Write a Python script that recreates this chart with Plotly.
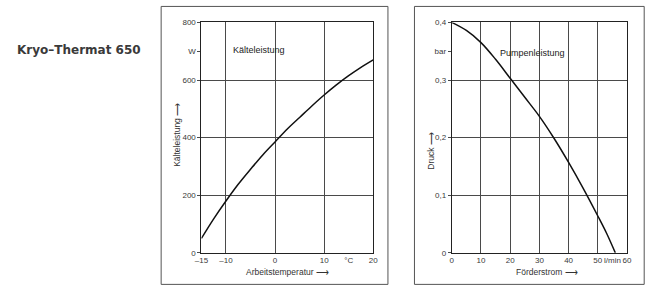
import plotly.graph_objects as go

# ---- data ----
temp_c = [-15, -12.5, -10, -7.5, -5, -2.5, 0, 2.5, 5, 7.5, 10, 12.5, 15, 17.5, 20]
cooling_w = [50, 118, 180, 238, 290, 340, 385, 430, 470, 510, 548, 583, 615, 644, 670]

flow_lpm = [0, 5, 10, 15, 20, 25, 30, 35, 40, 45, 50, 53, 56]
pressure_bar = [0.400, 0.386, 0.365, 0.336, 0.303, 0.270, 0.237, 0.199, 0.157, 0.112, 0.064, 0.034, 0.0]

left_xticks = [-15, -10, 0, 10, 15, 20]
left_xtext = ["–15", "–10", "0", "10", "°C", "20"]
left_xgrid = [-10, 0, 10]
left_yticks = [0, 200, 400, 600, 700, 800]
left_ytext = ["0", "200", "400", "600", "W", "800"]
left_ygrid = [200, 400, 600]

right_xticks = [0, 10, 20, 30, 40, 50, 55, 60]
right_xtext = ["0", "10", "20", "30", "40", "50", "l/min", "60"]
right_xgrid = [10, 20, 30, 40, 50]
right_yticks = [0, 0.1, 0.2, 0.3, 0.35, 0.4]
right_ytext = ["0", "0,1", "0,2", "0,3", "bar", "0,4"]
right_ygrid = [0.1, 0.2, 0.3]

W, H = 660, 302
FONT = "Liberation Sans"
TICKC = "#3a3a3a"
GRIDC = "#4a4a4a"

def px(x):
    return x / W

def py(y):
    return 1 - y / H

fig = go.Figure()
fig.add_trace(go.Scatter(x=temp_c, y=cooling_w, mode="lines", line=dict(color="#111", width=1.5, shape="spline"),
                         xaxis="x", yaxis="y", showlegend=False, hoverinfo="skip"))
fig.add_trace(go.Scatter(x=flow_lpm, y=pressure_bar, mode="lines", line=dict(color="#111", width=1.5, shape="spline"),
                         xaxis="x2", yaxis="y2", showlegend=False, hoverinfo="skip"))

def axis(domain, rng, tv, tt, grid, anchor, is_y=False):
    d = dict(domain=domain, range=rng, tickmode="array", tickvals=tv, ticktext=tt, tickangle=0,
             showgrid=False, zeroline=False, showline=True, mirror=True, linecolor="#222", linewidth=1,
             tickfont=dict(family=FONT, size=8, color=TICKC), anchor=anchor, fixedrange=True,
             ticks="outside" if is_y else "", ticklen=3, tickcolor=GRIDC,
             minor=dict(tickmode="array", tickvals=grid, showgrid=True, gridcolor=GRIDC, gridwidth=1, ticks=""))
    return d

xl = [px(198), px(373)]
xr = [px(453), px(631.5)]
yd = [py(256.5), py(19)]

fig.update_layout(
    width=W, height=H, margin=dict(l=0, r=0, t=0, b=0),
    paper_bgcolor="white", plot_bgcolor="white",
    xaxis=axis(xl, [-15, 20], left_xticks, left_xtext, left_xgrid, "y"),
    yaxis=axis(yd, [0, 800], left_yticks, left_ytext, left_ygrid, "x", True),
    xaxis2=axis(xr, [0, 60], right_xticks, right_xtext, right_xgrid, "y2"),
    yaxis2=axis(yd, [0, 0.4], right_yticks, right_ytext, right_ygrid, "x2", True),
)

# frames around each chart
for x0, x1 in [(157, 388), (415, 649)]:
    fig.add_shape(type="rect", xref="paper", yref="paper", x0=px(x0), x1=px(x1), y0=py(289), y1=py(2.5),
                  line=dict(color="#555", width=1))

ann = [
    dict(x=px(8), y=py(47), text="<b>Kryo–Thermat 650</b>", xanchor="left", yanchor="middle",
         font=dict(family="DejaVu Sans", size=12, color="#3a3a3a"), xref="paper", yref="paper"),
    dict(x=-9, y=705, xref="x", yref="y", text="Kälteleistung", xanchor="left", yanchor="middle",
         font=dict(family=FONT, size=9, color="#222")),
    dict(x=16, y=0.347, xref="x2", yref="y2", text="Pumpenleistung", xanchor="left", yanchor="middle",
         font=dict(family=FONT, size=9, color="#222")),
    dict(x=px(286), y=py(276), text="Arbeitstemperatur ⟶", xanchor="center", yanchor="middle",
         font=dict(family=FONT, size=8.5, color="#333"), xref="paper", yref="paper"),
    dict(x=px(550), y=py(276), text="Förderstrom ⟶", xanchor="center", yanchor="middle",
         font=dict(family=FONT, size=8.5, color="#333"), xref="paper", yref="paper"),
    dict(x=px(173), y=py(135), text="Kälteleistung ⟶", textangle=-90, xanchor="center", yanchor="middle",
         font=dict(family=FONT, size=8.5, color="#333"), xref="paper", yref="paper"),
    dict(x=px(431), y=py(151), text="Druck ⟶", textangle=-90, xanchor="center", yanchor="middle",
         font=dict(family=FONT, size=8.5, color="#333"), xref="paper", yref="paper"),
]
for a in ann:
    a["showarrow"] = False
    fig.add_annotation(**a)

fig.write_html("out.html")
